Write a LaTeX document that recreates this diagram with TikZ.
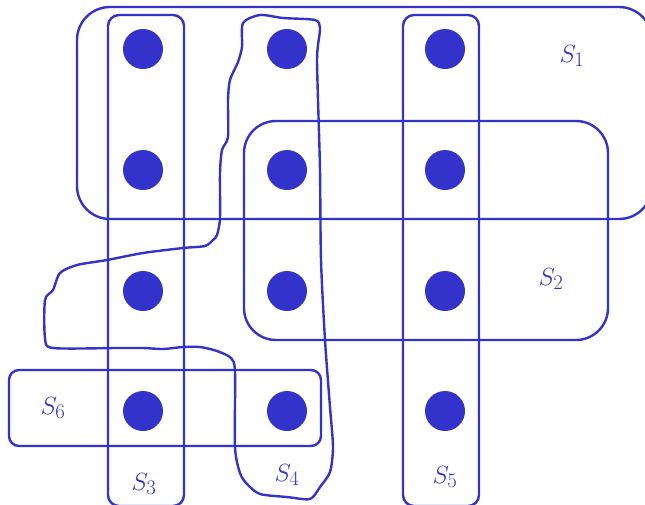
\documentclass[tikz,border=0pt]{standalone}
\definecolor{setblue}{HTML}{3333CC}
\begin{document}
\begin{tikzpicture}[x=1pt,y=-1pt,
  setline/.style={draw=setblue,line width=2.4pt},
  elem/.style={circle,fill=setblue,minimum size=40pt,inner sep=0pt},
  setlabel/.style={text=setblue,font=\fontsize{28}{32}\selectfont,inner sep=0pt}]
\useasboundingbox (0,0) rectangle (645,504);
% sets
\draw[setline,rounded corners=33pt] (77,7) rectangle (652,219);
\draw[setline,rounded corners=32pt] (244,121) rectangle (608,340);
\draw[setline,rounded corners=11pt] (108,15) rectangle (184,506);
\draw[setline,rounded corners=11pt] (403,15) rectangle (479,506);
\draw[setline,rounded corners=10pt] (9,370) rectangle (321,446);
\draw[setline] plot[smooth cycle,tension=0.45] coordinates {
 (243,23) (260,15) (283,18) (315,20) (320,28) (318,45) (317,60) (318,100)
 (320,170) (321,260) (325,340) (330,407) (333,447) (330,472) (320,487)
 (310,499) (287,497) (260,494) (247,484) (240,473) (235,447) (235,372)
 (231,358) (217,351) (200,347) (183,347) (163,349) (143,348) (117,348)
 (53,348) (45,338) (45,300) (53,290) (60,273) (77,265) (107,260) (143,253)
 (183,248) (205,246) (213,240) (217,235) (220,218) (220,173) (222,150)
 (228,137) (228,100) (230,80) (238,62) (242,47)};
% elements
\node[elem] (a1) at (143,49) {};
\node[elem] (a2) at (287,49) {};
\node[elem] (a3) at (445,49) {};
\node[elem] (b1) at (143,170) {};
\node[elem] (b2) at (287,170) {};
\node[elem] (b3) at (445,170) {};
\node[elem] (c1) at (143,291) {};
\node[elem] (c2) at (287,291) {};
\node[elem] (c3) at (445,291) {};
\node[elem] (d1) at (143,411) {};
\node[elem] (d2) at (287,411) {};
\node[elem] (d3) at (445,411) {};
% labels
\node[setlabel] (l1) at (572,56) {$S_1$};
\node[setlabel] (l2) at (551,279) {$S_2$};
\node[setlabel] (l3) at (144,484) {$S_3$};
\node[setlabel] (l4) at (287,475) {$S_4$};
\node[setlabel] (l5) at (445,477) {$S_5$};
\node[setlabel] (l6) at (53,408) {$S_6$};
\end{tikzpicture}
\end{document}
